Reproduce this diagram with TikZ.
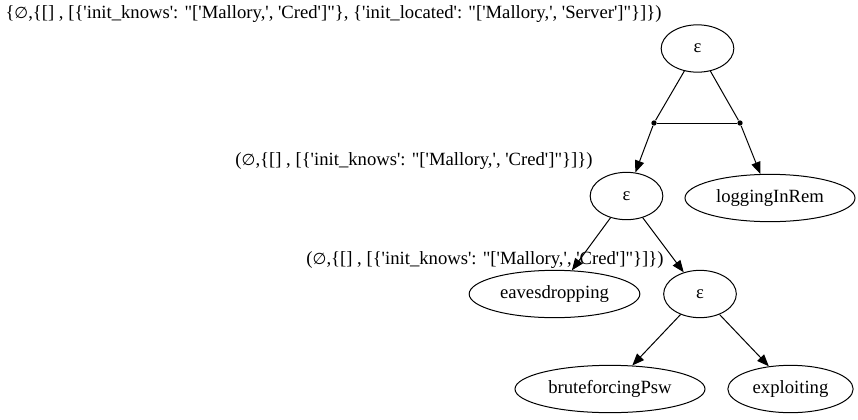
\documentclass[tikz,border=0pt]{standalone}
\usepackage{fontspec}
\setmainfont{Liberation Serif}[Ligatures=TeXOff]
\newfontfamily\symf{DejaVu Sans}
\usetikzlibrary{shapes.geometric,arrows.meta}
\newcommand{\emp}{{\symf\scalebox{0.85}{∅}}}
\newcommand{\labA}{\{\emp,\{[] , [\{'init\_knows': "['Mallory,', 'Cred']"\}, \{'init\_located': "['Mallory,', 'Server']"\}]\})}
\newcommand{\labB}{(\emp,\{[] , [\{'init\_knows': "['Mallory,', 'Cred']"\}]\})}
\begin{document}
\begin{tikzpicture}[x=0.75pt,y=-0.75pt,
  font=\fontsize{14}{16}\selectfont, line width=0.75pt,
  nd/.style={draw, ellipse, inner sep=0pt, minimum height=35.5pt},
  lab/.style={inner sep=0pt},
  arr/.style={-{Triangle[length=9pt,width=7pt]}},
  dot/.style={circle, fill, inner sep=0pt, minimum size=4pt}]
\useasboundingbox (0,0) rectangle (858,419);
% labels
\node[lab, anchor=west] (l1) at (5,14) {\labA};
\node[lab] (l2) at (414,161) {\labB};
\node[lab] (l3) at (485,260) {\labB};
% nodes
\node[nd, minimum width=54.5pt] (e1) at (697.5,48.5) {ε};
\node[dot] (dl) at (654,123) {};
\node[dot] (dr) at (740,123) {};
\node[nd, minimum width=54.5pt] (e2) at (626.5,196) {ε};
\node[nd, minimum width=127.5pt] (log) at (770,198) {loggingInRem};
\node[nd, minimum width=128pt] (eav) at (554.5,294) {eavesdropping};
\node[nd, minimum width=54.5pt] (e3) at (700,294) {ε};
\node[nd, minimum width=142.5pt] (bru) at (610,389) {bruteforcingPsw};
\node[nd, minimum width=94pt] (exp) at (790.5,389) {exploiting};
% edges
\draw (e1) -- (dl);
\draw (e1) -- (dr);
\draw (dl) -- (dr);
\draw[arr] (dl) -- (e2);
\draw[arr] (dr) -- (log);
\draw[arr] (e2) -- (eav);
\draw[arr] (e2) -- (e3);
\draw[arr] (e3) -- (bru);
\draw[arr] (e3) -- (exp);
\end{tikzpicture}
\end{document}
